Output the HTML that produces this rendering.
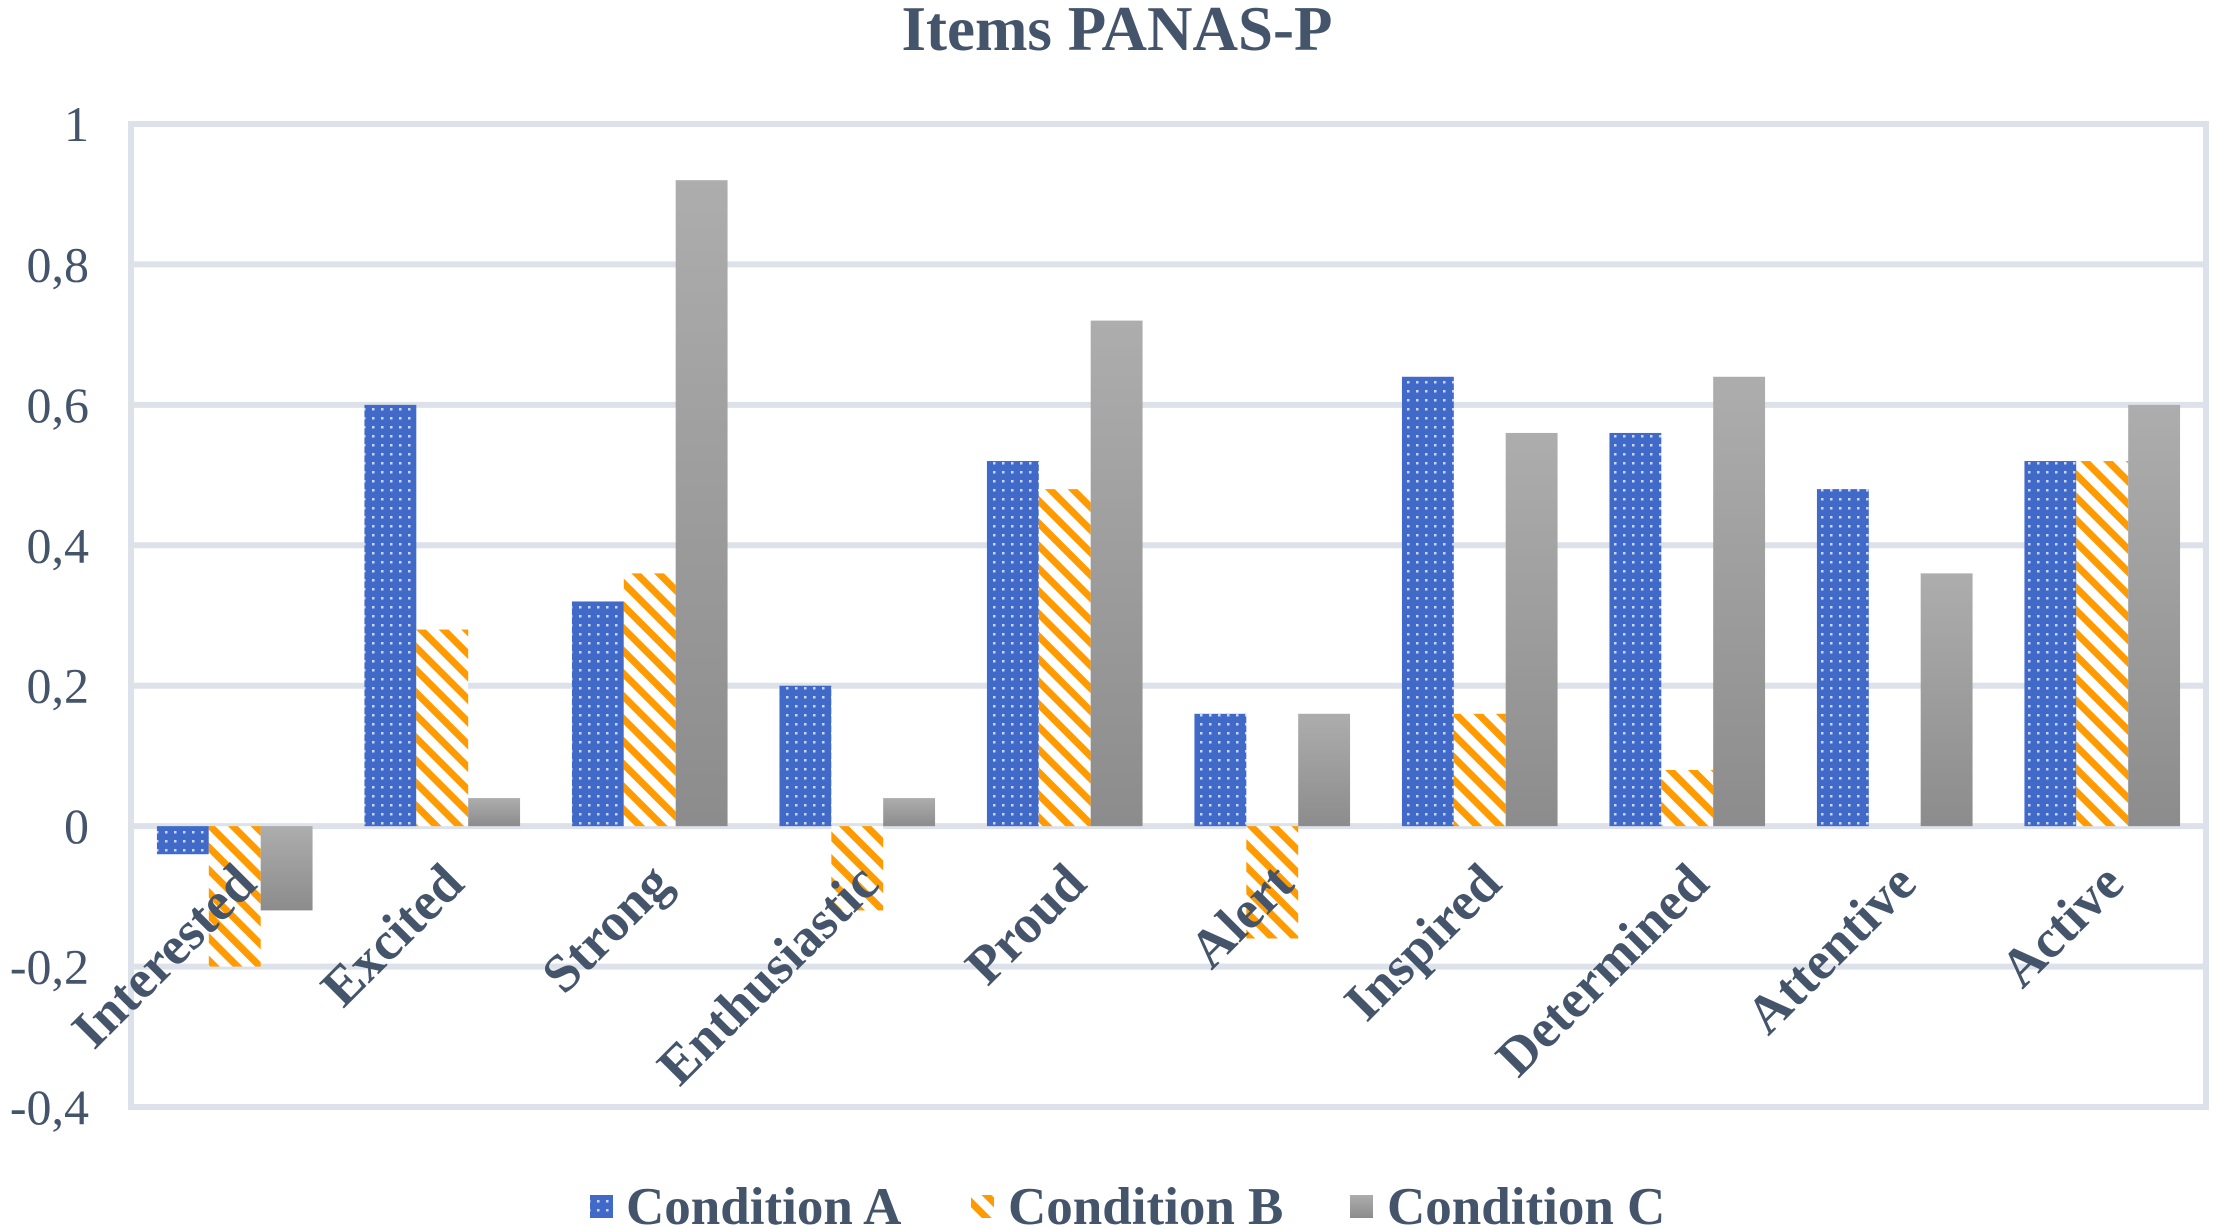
<!DOCTYPE html>
<html><head><meta charset="utf-8"><style>
html,body{margin:0;padding:0;background:#fff;}
svg{display:block;font-family:"Liberation Serif",serif;}
</style></head><body>
<svg id="chart" width="2217" height="1229" viewBox="0 0 2217 1229" xmlns="http://www.w3.org/2000/svg">
<defs>
<pattern id="dots" width="9" height="9" patternUnits="userSpaceOnUse">
<rect width="9" height="9" fill="#4169c8"/><rect x="3" y="3" width="2.5" height="2.5" fill="#c9d6f5"/>
</pattern>
<pattern id="stripes" width="16" height="16" patternUnits="userSpaceOnUse" patternTransform="rotate(45)">
<rect width="16" height="16" fill="#fff"/><rect width="16" height="7" fill="#ff9a00"/>
</pattern>
<linearGradient id="grayg" x1="0" y1="0" x2="0" y2="1">
<stop offset="0" stop-color="#adadad"/><stop offset="1" stop-color="#8c8c8c"/>
</linearGradient>
</defs>
<text x="1117" y="50" text-anchor="middle" font-size="63" font-weight="bold" fill="#44546a">Items PANAS-P</text>
<g id="grid"></g>
<g id="bars"></g>
<g id="labels"></g>
<g>
<rect x="590" y="1195" width="23" height="23" fill="url(#dots)"/>
<text x="626" y="1224" font-size="53" font-weight="bold" fill="#44546a">Condition A</text>
<rect x="971" y="1195" width="23" height="23" fill="url(#stripes)"/>
<text x="1008" y="1224" font-size="53" font-weight="bold" fill="#44546a">Condition B</text>
<rect x="1350" y="1195" width="23" height="23" fill="url(#grayg)"/>
<text x="1387" y="1224" font-size="53" font-weight="bold" fill="#44546a">Condition C</text>
</g>
</svg>
<script>
const categories = ["Interested","Excited","Strong","Enthusiastic","Proud","Alert","Inspired","Determined","Attentive","Active"];
const seriesA = [-0.04,0.6,0.32,0.2,0.52,0.16,0.64,0.56,0.48,0.52];
const seriesB = [-0.2,0.28,0.36,-0.12,0.48,-0.16,0.16,0.08,0,0.52];
const seriesC = [-0.12,0.04,0.92,0.04,0.72,0.16,0.56,0.64,0.36,0.6];
const tickValues = [1,0.8,0.6,0.4,0.2,0,-0.2,-0.4];
const tickLabels = ["1","0,8","0,6","0,4","0,2","0","-0,2","-0,4"];

const NS="http://www.w3.org/2000/svg";
const L=131,R=2206,T=124,B=1107,yMax=1,yMin=-0.4;
function y(v){return T+(yMax-v)/(yMax-yMin)*(B-T);}
const bw=(R-L)/categories.length;
function xc(i){return L+bw*(i+0.5);}
function mk(tag,attrs,parent){const e=document.createElementNS(NS,tag);for(const k in attrs)e.setAttribute(k,attrs[k]);parent.appendChild(e);return e;}
const grid=document.getElementById('grid'),bars=document.getElementById('bars'),labels=document.getElementById('labels');
tickValues.forEach((v,i)=>{
  const ln=mk('line',{x1:L,x2:R,y1:y(v),y2:y(v),stroke:'#dde2ea','stroke-width':6},grid);
  
  
  const t=mk('text',{x:89,y:y(v)+17,'text-anchor':'end','font-size':50,fill:'#44546a'},grid);
  t.textContent=tickLabels[i];
  
  
});
const fr=mk('rect',{x:L,y:T,width:R-L,height:B-T,fill:'none',stroke:'#dde2ea','stroke-width':6},grid);


const series=[[seriesA,'url(#dots)','a'],[seriesB,'url(#stripes)','b'],[seriesC,'url(#grayg)','c']];
const barW=bw*0.25;
categories.forEach((c,i)=>{
  series.forEach((s,j)=>{
    const v=s[0][i];
    const x=xc(i)-1.5*barW+j*barW;
    const r=mk('rect',{x:x,y:Math.min(y(v),y(0)),width:barW,height:Math.abs(y(v)-y(0)),fill:s[1]},bars);
    
    
  });
  const tx=xc(i)+24,ty=y(0)+60;
  const t=mk('text',{x:tx,y:ty,'text-anchor':'end','font-size':54,'font-weight':'bold',fill:'#44546a',transform:'rotate(-45 '+tx+' '+ty+')'},labels);
  t.textContent=c;
  
  
});
</script>
</body></html>
